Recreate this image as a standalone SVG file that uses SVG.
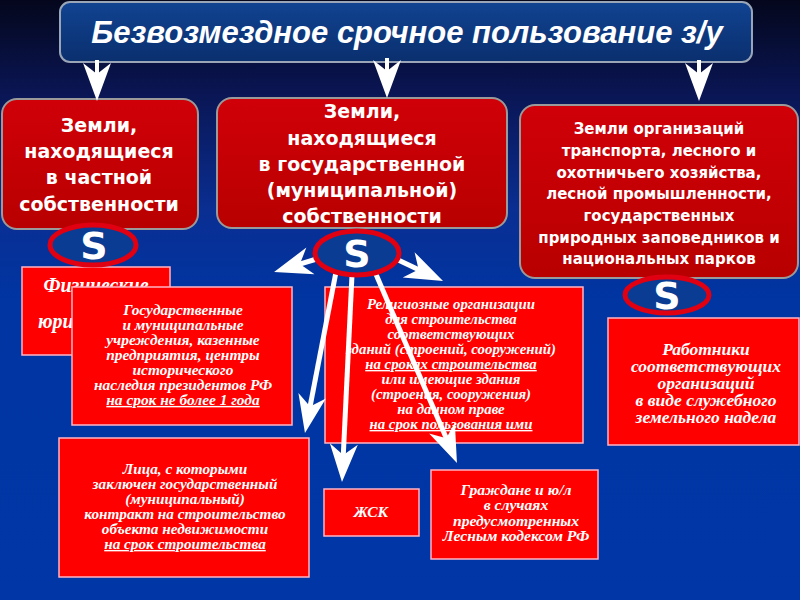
<svg xmlns="http://www.w3.org/2000/svg" width="800" height="600" viewBox="0 0 800 600">
<defs>
<linearGradient id="bg" x1="0" y1="0" x2="0" y2="1">
<stop offset="0" stop-color="#04071c"/>
<stop offset="0.15" stop-color="#0a1552"/>
<stop offset="0.35" stop-color="#0a2e92"/>
<stop offset="0.5" stop-color="#0035a2"/>
<stop offset="1" stop-color="#0036a6"/>
</linearGradient>
<linearGradient id="tb" x1="0" y1="0" x2="0" y2="1">
<stop offset="0" stop-color="#114391"/>
<stop offset="1" stop-color="#0a2f6e"/>
</linearGradient>
<linearGradient id="rb" x1="0" y1="0" x2="0" y2="1">
<stop offset="0" stop-color="#d00008"/>
<stop offset="1" stop-color="#b80000"/>
</linearGradient>
<marker id="ah" markerUnits="userSpaceOnUse" viewBox="-40 -16 42 32" markerWidth="42" markerHeight="32" refX="-25" refY="0" orient="auto">
<path d="M0,0 L-38,-14 L-27,0 L-38,14 Z" fill="#ffffff"/>
</marker>
<style>
.top{fill:url(#rb);stroke:#9a9a9a;stroke-width:2}
.low{fill:#ff0000;stroke:#ffb4c4;stroke-width:1.5}
.hd{font-family:"DejaVu Sans","Liberation Sans",sans-serif;font-weight:bold;fill:#ffffff;text-anchor:middle}
.it{font-family:"Liberation Serif","Times New Roman",serif;font-weight:bold;font-style:italic;fill:#ffffff;text-anchor:middle}
.u{text-decoration:underline}
.ov{fill:#0b3c93;stroke:#e00012;stroke-width:5}
.s{font-family:"DejaVu Sans","Liberation Sans",sans-serif;font-weight:bold;font-size:38px;fill:#ffffff;text-anchor:middle}
.ln{stroke:#ffffff;fill:none;marker-end:url(#ah)}
</style>
</defs>
<rect x="0" y="0" width="800" height="600" fill="url(#bg)"/>

<g id="title">
<rect x="60" y="2" width="692" height="60" rx="10" fill="url(#tb)" stroke="#9aa6b8" stroke-width="2"/>
<text x="407" y="43" font-family="Liberation Sans, Arial, sans-serif" font-weight="bold" font-style="italic" font-size="31" fill="#ffffff" text-anchor="middle">Безвозмездное срочное пользование з/у</text>
</g>

<g id="private">
<rect class="top" x="2" y="99" width="196" height="130" rx="15"/>
<text class="hd" font-size="19"><tspan x="99" y="132">Земли,</tspan><tspan x="99" y="158">находящиеся</tspan><tspan x="99" y="184">в частной</tspan><tspan x="99" y="211">собственности</tspan></text>
</g>

<g id="state">
<rect class="top" x="217" y="98" width="290" height="130" rx="15"/>
<text class="hd" font-size="19"><tspan x="362" y="118">Земли,</tspan><tspan x="362" y="145">находящиеся</tspan><tspan x="362" y="171">в государственной</tspan><tspan x="362" y="197">(муниципальной)</tspan><tspan x="362" y="223">собственности</tspan></text>
</g>

<g id="orgs">
<rect class="top" x="520" y="105" width="278" height="173" rx="15"/>
<text class="hd" font-size="15"><tspan x="659" y="134">Земли организаций</tspan><tspan x="659" y="156">транспорта, лесного и</tspan><tspan x="659" y="178">охотничьего хозяйства,</tspan><tspan x="659" y="199">лесной промышленности,</tspan><tspan x="659" y="221">государственных</tspan><tspan x="659" y="243">природных заповедников и</tspan><tspan x="659" y="264">национальных парков</tspan></text>
</g>

<g id="persons">
<rect class="low" x="22" y="267" width="148" height="88"/>
<text class="it" font-size="20"><tspan x="96" y="292">Физические</tspan><tspan x="38" y="328" text-anchor="start">юри</tspan></text>
</g>

<g id="institutions">
<rect class="low" x="72" y="287" width="220" height="138"/>
<text class="it" font-size="14" transform="matrix(1.1,0,0,1,-18.3,0)"><tspan x="183" y="315">Государственные</tspan><tspan x="183" y="330">и муниципальные</tspan><tspan x="183" y="345">учреждения, казенные</tspan><tspan x="183" y="360">предприятия, центры</tspan><tspan x="183" y="375">исторического</tspan><tspan x="183" y="390">наследия президентов РФ</tspan><tspan x="183" y="405" class="u">на срок не более 1 года</tspan></text>
</g>

<g id="religious">
<rect class="low" x="325" y="287" width="258" height="156"/>
<text class="it" font-size="14" transform="matrix(1.06,0,0,1,-27.06,0)"><tspan x="451" y="309">Религиозные организации</tspan><tspan x="451" y="324">для строительства</tspan><tspan x="451" y="339">соответствующих</tspan><tspan x="451" y="354">зданий (строений, сооружений)</tspan><tspan x="451" y="369" class="u">на сроках строительства</tspan><tspan x="451" y="384">или имеющие здания</tspan><tspan x="451" y="399">(строения, сооружения)</tspan><tspan x="451" y="414">на данном праве</tspan><tspan x="451" y="429" class="u">на срок пользования ими</tspan></text>
</g>

<g id="workers">
<rect class="low" x="608" y="318" width="191" height="127"/>
<text class="it" font-size="16" transform="matrix(1.095,0,0,1,-67.07,0)"><tspan x="706" y="355">Работники</tspan><tspan x="706" y="372">соответствующих</tspan><tspan x="706" y="389">организаций</tspan><tspan x="706" y="406">в виде служебного</tspan><tspan x="706" y="423">земельного надела</tspan></text>
</g>

<g id="contract">
<rect class="low" x="59" y="438" width="250" height="139"/>
<text class="it" font-size="14" transform="matrix(1.09,0,0,1,-16.65,0)"><tspan x="185" y="474">Лица, с которыми</tspan><tspan x="185" y="489">заключен государственный</tspan><tspan x="185" y="504">(муниципальный)</tspan><tspan x="185" y="519">контракт на строительство</tspan><tspan x="185" y="534">объекта недвижимости</tspan><tspan x="185" y="549" class="u">на срок строительства</tspan></text>
</g>

<g id="zhsk">
<rect class="low" x="324" y="489" width="95" height="47"/>
<text class="it" font-size="15.5" x="371" y="517">ЖСК</text>
</g>

<g id="citizens">
<rect class="low" x="431" y="470" width="167" height="89"/>
<text class="it" font-size="14.5" transform="matrix(1.08,0,0,1,-41.28,0)"><tspan x="516" y="495">Граждане и ю/л</tspan><tspan x="516" y="510.5">в случаях</tspan><tspan x="516" y="526">предусмотренных</tspan><tspan x="516" y="541.5">Лесным кодексом РФ</tspan></text>
</g>

<g id="connectors">
<line class="ln" stroke-width="4" x1="97" y1="60" x2="97" y2="76"/>
<line class="ln" stroke-width="4" x1="387" y1="58" x2="387" y2="73"/>
<line class="ln" stroke-width="4" x1="699" y1="60" x2="699" y2="76"/>
<line class="ln" stroke-width="5" x1="320" y1="258" x2="298" y2="264.7"/>
<line class="ln" stroke-width="5" x1="394" y1="258" x2="420.4" y2="270.4"/>
<line class="ln" stroke-width="5" x1="336" y1="272" x2="309.7" y2="408.5"/>
<line class="ln" stroke-width="5" x1="352" y1="275" x2="343.2" y2="457"/>
<line class="ln" stroke-width="5" x1="375" y1="272" x2="447.1" y2="440"/>
</g>

<g id="s-private">
<ellipse class="ov" cx="93" cy="245" rx="43" ry="20"/>
<text class="s" x="94" y="259">S</text>
</g>
<g id="s-state">
<ellipse class="ov" cx="357" cy="253" rx="42" ry="22"/>
<text class="s" x="357" y="267">S</text>
</g>
<g id="s-orgs">
<ellipse class="ov" cx="667" cy="295" rx="42" ry="18"/>
<text class="s" x="667" y="309">S</text>
</g>
</svg>
